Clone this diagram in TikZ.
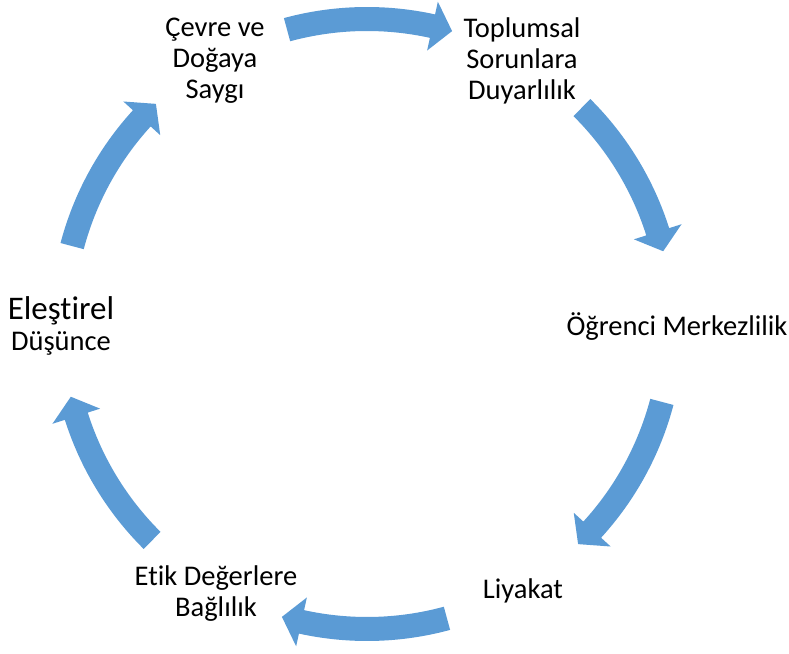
\documentclass[tikz,border=0pt]{standalone}
\usepackage{fontspec}
\setmainfont[Ligatures=NoCommon]{Carlito}
\definecolor{arrowblue}{HTML}{5B9BD5}
\begin{document}
\begin{tikzpicture}[x=1pt,y=1pt,
  lbl/.style={align=center,font=\fontsize{28.5}{31}\selectfont,text=black,inner sep=0pt},
  cyclearrow/.style={fill=arrowblue,draw=none}]
\useasboundingbox (0,0) rectangle (789,653);
\coordinate (C) at (367,329);
\begin{scope}[shift={(C)}]
\foreach \p in {90,30,-30,-90,-150,150}{
  \fill[cyclearrow] (\p+15.2:317) arc[start angle=\p+15.2, end angle=\p-12.4, radius=317]
    -- (\p-12.4:330) -- (\p-16.2:305) -- (\p-12.4:280) -- (\p-12.4:293)
    arc[start angle=\p-12.4, end angle=\p+15.2, radius=293] -- cycle;
}
\end{scope}
\node[lbl] (cevre) at (215,592) {Çevre ve\\Doğaya\\Saygı};
\node[lbl] (toplum) at (522,592) {Toplumsal\\Sorunlara\\Duyarlılık};
\node[lbl] (ogrenci) at (677,326) {Öğrenci Merkezlilik};
\node[lbl] (liyakat) at (523,62) {Liyakat};
\node[lbl] (etik) at (216,59) {Etik Değerlere\\Bağlılık};
\node[lbl] (elestirel) at (61,327) {{\fontsize{33}{34}\selectfont Eleştirel}\\Düşünce};
\end{tikzpicture}
\end{document}
